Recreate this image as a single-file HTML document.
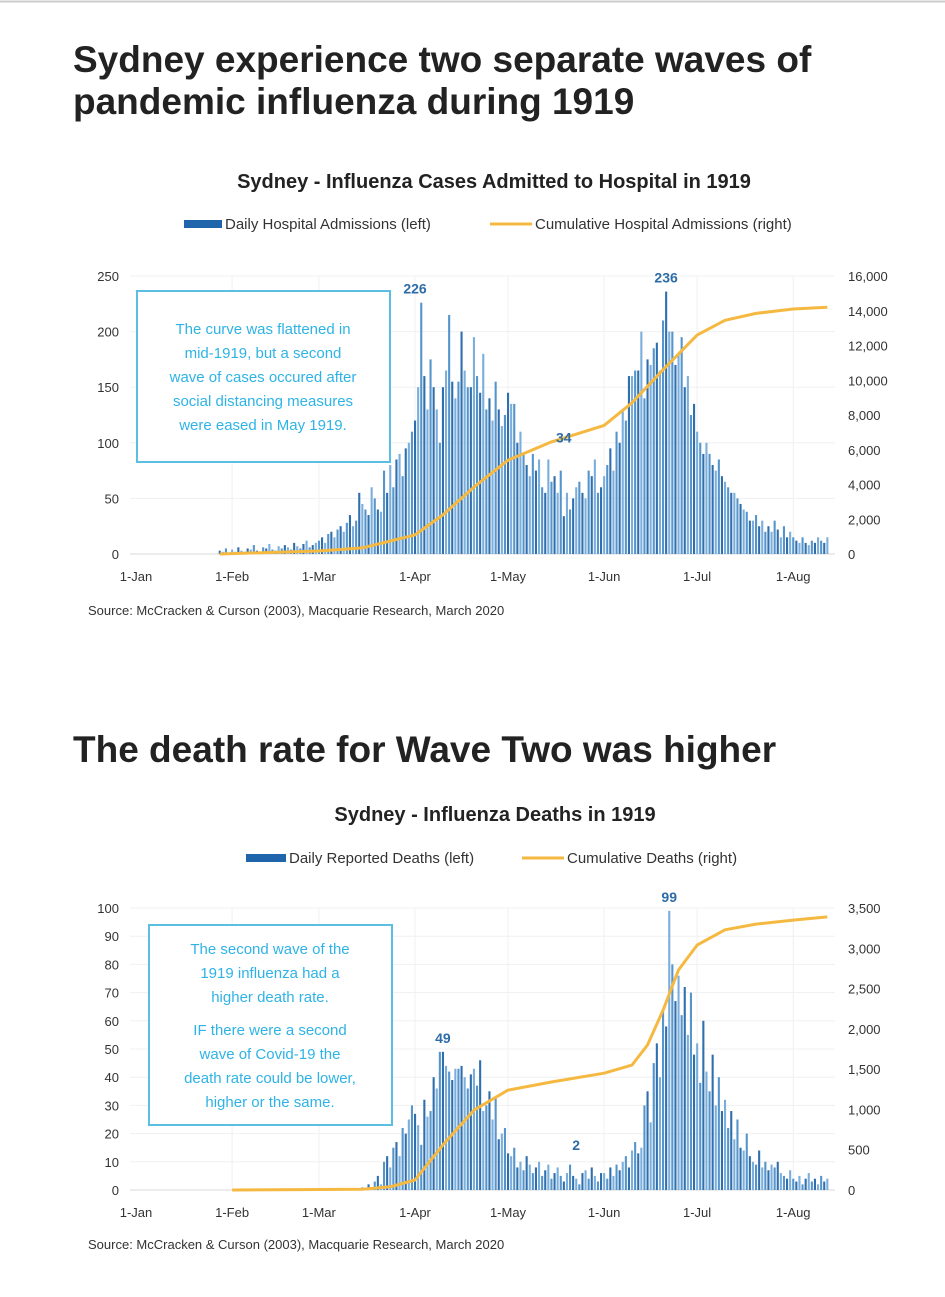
<!DOCTYPE html>
<html><head><meta charset="utf-8">
<style>
body{margin:0;background:#fff;width:945px;height:1297px;overflow:hidden;font-family:"Liberation Sans",sans-serif;}
svg{position:absolute;left:0;top:0}
</style></head>
<body>
<svg id="s" width="945" height="1297" xmlns="http://www.w3.org/2000/svg">
<line x1="0" y1="1.5" x2="945" y2="1.5" stroke="#ccc" stroke-width="2"/>
<text x="73" y="72" font-size="37" font-weight="bold" fill="#222">Sydney experience two separate waves of</text>
<text x="73" y="114" font-size="37" font-weight="bold" fill="#222">pandemic influenza during 1919</text>
<text x="494" y="188" font-size="20" font-weight="bold" fill="#222" text-anchor="middle">Sydney - Influenza Cases Admitted to Hospital in 1919</text>
<g>
<rect x="184" y="220" width="38" height="8" fill="#1f65ac"/>
<text x="225" y="229" font-size="15" fill="#333">Daily Hospital Admissions (left)</text>
<line x1="490" y1="224" x2="532" y2="224" stroke="#f5b942" stroke-width="3"/>
<text x="535" y="229" font-size="15" fill="#333">Cumulative Hospital Admissions (right)</text>
</g>
<g id="c1"></g>
<g>
<rect x="137" y="291" width="253" height="171" fill="#fff" stroke="#5bbfe3" stroke-width="2"/>
<g font-size="15" fill="#2fb3e6" text-anchor="middle">
<text x="263" y="334">The curve was flattened in</text>
<text x="263" y="358">mid-1919, but a second</text>
<text x="263" y="382">wave of cases occured after</text>
<text x="263" y="406">social distancing measures</text>
<text x="263" y="430">were eased in May 1919.</text>
</g></g>
<text x="88" y="615" font-size="13" fill="#333">Source: McCracken &amp; Curson (2003), Macquarie Research, March 2020</text>

<text x="73" y="762" font-size="37" font-weight="bold" fill="#222">The death rate for Wave Two was higher</text>
<text x="495" y="821" font-size="20" font-weight="bold" fill="#222" text-anchor="middle">Sydney - Influenza Deaths in 1919</text>
<g>
<rect x="246" y="854" width="40" height="8" fill="#1f65ac"/>
<text x="289" y="863" font-size="15" fill="#333">Daily Reported Deaths (left)</text>
<line x1="522" y1="858" x2="564" y2="858" stroke="#f5b942" stroke-width="3"/>
<text x="567" y="863" font-size="15" fill="#333">Cumulative Deaths (right)</text>
</g>
<g id="c2"></g>
<g>
<rect x="149" y="925" width="243" height="200" fill="#fff" stroke="#5bbfe3" stroke-width="2"/>
<g font-size="15" fill="#2fb3e6" text-anchor="middle">
<text x="270" y="954">The second wave of the</text>
<text x="270" y="978">1919 influenza had a</text>
<text x="270" y="1002">higher death rate.</text>
<text x="270" y="1035">IF there were a second</text>
<text x="270" y="1059">wave of Covid-19 the</text>
<text x="270" y="1083">death rate could be lower,</text>
<text x="270" y="1107">higher or the same.</text>
</g></g>
<text x="88" y="1249" font-size="13" fill="#333">Source: McCracken &amp; Curson (2003), Macquarie Research, March 2020</text>
</svg>
<script>
const monthLabels=["1-Jan","1-Feb","1-Mar","1-Apr","1-May","1-Jun","1-Jul","1-Aug"];
const monthDays=[0,31,59,90,120,151,181,212];
// Chart 1: daily admissions, index = day of year (0 = 1 Jan)
const admissions=[].concat(
 new Array(27).fill(0),
 [3,2,5,1,4,2,6,3,2,5,4,8,3,2,6,5,9,4,3,7,5,8,6,4,10,7,5,9,12,6,8,10],
 [12,15,10,18,20,15,22,25,20,28,35,25,30,55,45,40,35,60,50,40,38,75,55,80,60,85,90,70,95,100,110],
 [120,150,226,160,130,175,150,130,100,150,165,215,155,140,155,200,165,150,150,195,160,145,180,130,140,120,155,130,115,125],
 [145,135,135,100,110,90,80,70,90,75,85,60,55,85,65,70,55,75,34,55,40,50,60,65,55,50,75,70,85,55,60],
 [70,80,95,75,110,100,130,120,160,160,165,165,200,140,175,170,185,190,165,210,236,200,200,170,180,195,150,160,125,135],
 [110,100,90,100,90,80,75,85,70,65,60,55,55,50,45,40,38,30,30,35,25,30,20,25,20,30,22,15,25,15,20],
 [15,12,10,15,10,8,12,10,15,12,10,15]
);
const admCumDays=[27,59,73,90,99,109,120,134,151,160,170,181,190,200,212,223];
const admCumValues=[0,170,350,1100,2250,3850,5400,6450,7400,8700,10600,12600,13450,13850,14100,14200];
const admLeftTicks=[0,50,100,150,200,250];
const admRightTicks=["0","2,000","4,000","6,000","8,000","10,000","12,000","14,000","16,000"];
// [day, label, label-height value]
const admPeaks=[[90,"226",226],[138,"34",92],[171,"236",236]];
// Chart 2: daily deaths
const deaths=[].concat(
 new Array(59).fill(0),
 [0,0,0,0,0,0,0,0,0,0,0,0,0,0,1,0,2,1,3,5,2,10,12,8,15,17,12,22,20,25,30],
 [27,23,16,32,26,28,40,36,49,49,44,42,39,43,43,44,40,36,41,43,37,46,28,30,35,25,33,18,20,22],
 [13,12,15,8,10,7,12,9,6,8,10,5,7,9,4,6,8,5,3,6,9,5,4,2,6,7,4,8,5,3,6],
 [6,4,8,5,9,7,10,12,8,14,17,13,15,30,35,24,45,52,40,64,58,99,80,67,76,62,72,55,70,48],
 [52,38,60,42,35,48,30,40,28,32,22,28,18,25,15,14,20,12,10,9,14,8,10,7,9,8,10,6,5,4,7],
 [4,3,5,2,4,6,3,4,2,5,3,4]
);
const dthCumDays=[31,73,82,90,99,109,120,134,151,160,165,170,175,181,190,200,212,223];
const dthCumValues=[0,10,40,124,560,990,1240,1340,1450,1550,1800,2230,2730,3040,3230,3300,3350,3390];
const dthLeftTicks=[0,10,20,30,40,50,60,70,80,90,100];
const dthRightTicks=["0","500","1,000","1,500","2,000","2,500","3,000","3,500"];
const dthPeaks=[[99,"49",49],[142,"2",11],[172,"99",99]];

const NS="http://www.w3.org/2000/svg";
function mk(g,tag,attrs){const e=document.createElementNS(NS,tag);for(const k in attrs)e.setAttribute(k,attrs[k]);g.appendChild(e);return e;}
function draw(gid,o){
 const g=document.getElementById(gid);
 const x=d=>136+d*3.1;
 const yL=v=>o.y0-(v/o.lmax)*(o.y0-o.y1);
 const yR=v=>o.y0-(v/o.rmax)*(o.y0-o.y1);
 o.lt.forEach((t,i)=>{const yy=yL(t);
  const l=mk(g,'line',{x1:130,x2:835,y1:yy,y2:yy,stroke:i==0?'#d9d9d9':'#f0f0f0','stroke-width':1});
  
  const tx=mk(g,'text',{x:119,y:yy+5,'font-size':13,'text-anchor':'end',fill:'#333'});tx.textContent=t;
  });
 o.rt.forEach((t,i)=>{const yy=o.y0-i*(o.y0-o.y1)/(o.rt.length-1);
  const tx=mk(g,'text',{x:848,y:yy+5,'font-size':13,fill:'#333'});tx.textContent=t;
  });
 monthDays.forEach((d,i)=>{
  if(i>0){const l=mk(g,'line',{x1:x(d),x2:x(d),y1:o.y1,y2:o.y0,stroke:'#f0f0f0'});
   }
  const tx=mk(g,'text',{x:x(d),y:o.y0+27,'font-size':13,'text-anchor':'middle',fill:'#333'});tx.textContent=monthLabels[i];
  });
 o.data.forEach((v,d)=>{if(v<=0)return;
  const r=mk(g,'rect',{x:x(d)-1,y:yL(v),width:2.1,height:o.y0-yL(v),fill:d%3==0?'#2f6fae':(d%3==1?'#7aaedc':'#5595cc')});
  });
 const pts=o.cd.map((d,i)=>x(d).toFixed(1)+','+yR(o.cv[i]).toFixed(1)).join(' ');
 const p=mk(g,'polyline',{points:pts,fill:'none',stroke:'#f5b942','stroke-width':3,'stroke-linejoin':'round'});
 
 o.pk.forEach(([d,t,lv])=>{
  const tx=mk(g,'text',{x:x(d),y:yL(lv)-9,'font-size':14,'font-weight':'bold','text-anchor':'middle',fill:'#2e6ca8'});tx.textContent=t;
  });
}
draw('c1',{data:admissions,cd:admCumDays,cv:admCumValues,lt:admLeftTicks,rt:admRightTicks,pk:admPeaks,y0:554,y1:276,lmax:250,rmax:16000});
draw('c2',{data:deaths,cd:dthCumDays,cv:dthCumValues,lt:dthLeftTicks,rt:dthRightTicks,pk:dthPeaks,y0:1190,y1:908,lmax:100,rmax:3500});
</script>
</body></html>
